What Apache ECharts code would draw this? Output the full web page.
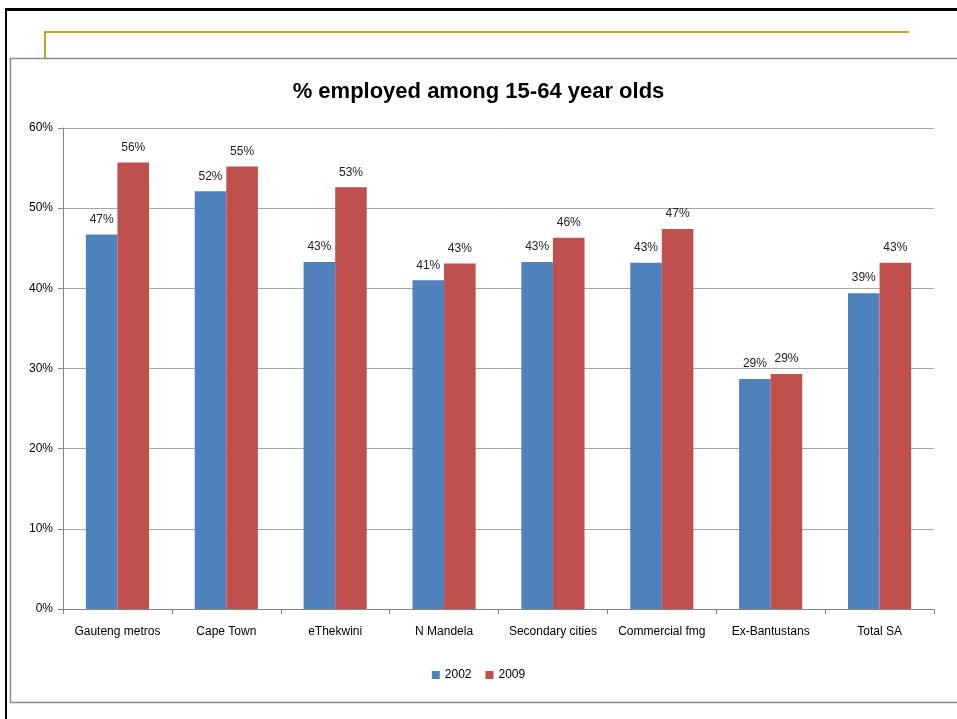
<html>
<head>
<meta charset="utf-8">
<script src="https://cdn.jsdelivr.net/npm/echarts@6/dist/echarts.min.js"></script>
<style>
html, body { margin: 0; padding: 0; background: #fff; }
#main { width: 957px; height: 719px; }
</style>
</head>
<body>
<div id="main"></div>
<script>
var categories = ['Gauteng metros', 'Cape Town', 'eThekwini', 'N Mandela', 'Secondary cities', 'Commercial fmg', 'Ex-Bantustans', 'Total SA'];
var values2002 = [46.7, 52.1, 43.3, 41.0, 43.3, 43.2, 28.7, 39.4];
var values2009 = [55.7, 55.2, 52.6, 43.1, 46.3, 47.4, 29.3, 43.2];
var yTicks = [0, 10, 20, 30, 40, 50, 60];

var myChart = echarts.init(document.getElementById('main'));
var font = 'Liberation Sans';

var labelOpt = {
    show: true,
    position: 'top',
    distance: 9,
    color: '#222',
    fontSize: 12,
    fontFamily: font,
    formatter: function (p) { return Math.round(p.value) + '%'; }
};

myChart.setOption({
    animation: false,
    backgroundColor: '#fff',
    graphic: [
        // slide frame
        { type: 'rect', shape: { x: 5, y: 8, width: 960, height: 3 }, style: { fill: '#000' } },
        { type: 'rect', shape: { x: 5, y: 8, width: 2, height: 720 }, style: { fill: '#000' } },
        { type: 'polyline', shape: { points: [[45, 58], [45, 32], [909, 32]] }, style: { stroke: '#D4A017', lineWidth: 2, fill: null } },
        // chart box
        { type: 'rect', shape: { x: 10.5, y: 58.5, width: 960, height: 644 }, style: { stroke: '#8c8c8c', lineWidth: 1.5, fill: null } }
    ],
    title: {
        text: '% employed among 15-64 year olds',
        left: 'center',
        top: 76,
        textStyle: { fontFamily: font, fontSize: 22, fontWeight: 'bold', color: '#000' }
    },
    legend: {
        bottom: 33,
        left: 'center',
        itemWidth: 8,
        itemHeight: 8,
        itemGap: 14,
        icon: 'rect',
        textStyle: { fontFamily: font, fontSize: 12, color: '#000' },
        data: ['2002', '2009']
    },
    grid: { left: 63, right: 23, top: 128, bottom: 110 },
    xAxis: {
        type: 'category',
        data: categories,
        axisLine: { lineStyle: { color: '#868686' } },
        axisTick: { show: true, length: 5, lineStyle: { color: '#868686' } },
        axisLabel: { margin: 17, color: '#000', fontFamily: font, fontSize: 12, interval: 0 }
    },
    yAxis: {
        type: 'value',
        min: 0,
        max: 60,
        interval: 10,
        axisLine: { show: true, lineStyle: { color: '#868686' } },
        axisTick: { show: true, length: 5, lineStyle: { color: '#868686' } },
        splitLine: { lineStyle: { color: '#a6a6a6' } },
        axisLabel: {
            margin: 10,
            color: '#000',
            fontFamily: font,
            fontSize: 12,
            formatter: function (v) { return yTicks.indexOf(v) >= 0 ? v + '%' : ''; }
        }
    },
    series: [
        {
            name: '2002',
            type: 'bar',
            data: values2002,
            barWidth: '29%',
            barGap: '0%',
            itemStyle: { color: '#4F81BD' },
            label: labelOpt
        },
        {
            name: '2009',
            type: 'bar',
            data: values2009,
            barWidth: '29%',
            barGap: '0%',
            itemStyle: { color: '#C0504D' },
            label: labelOpt
        }
    ]
});
</script>
</body>
</html>
